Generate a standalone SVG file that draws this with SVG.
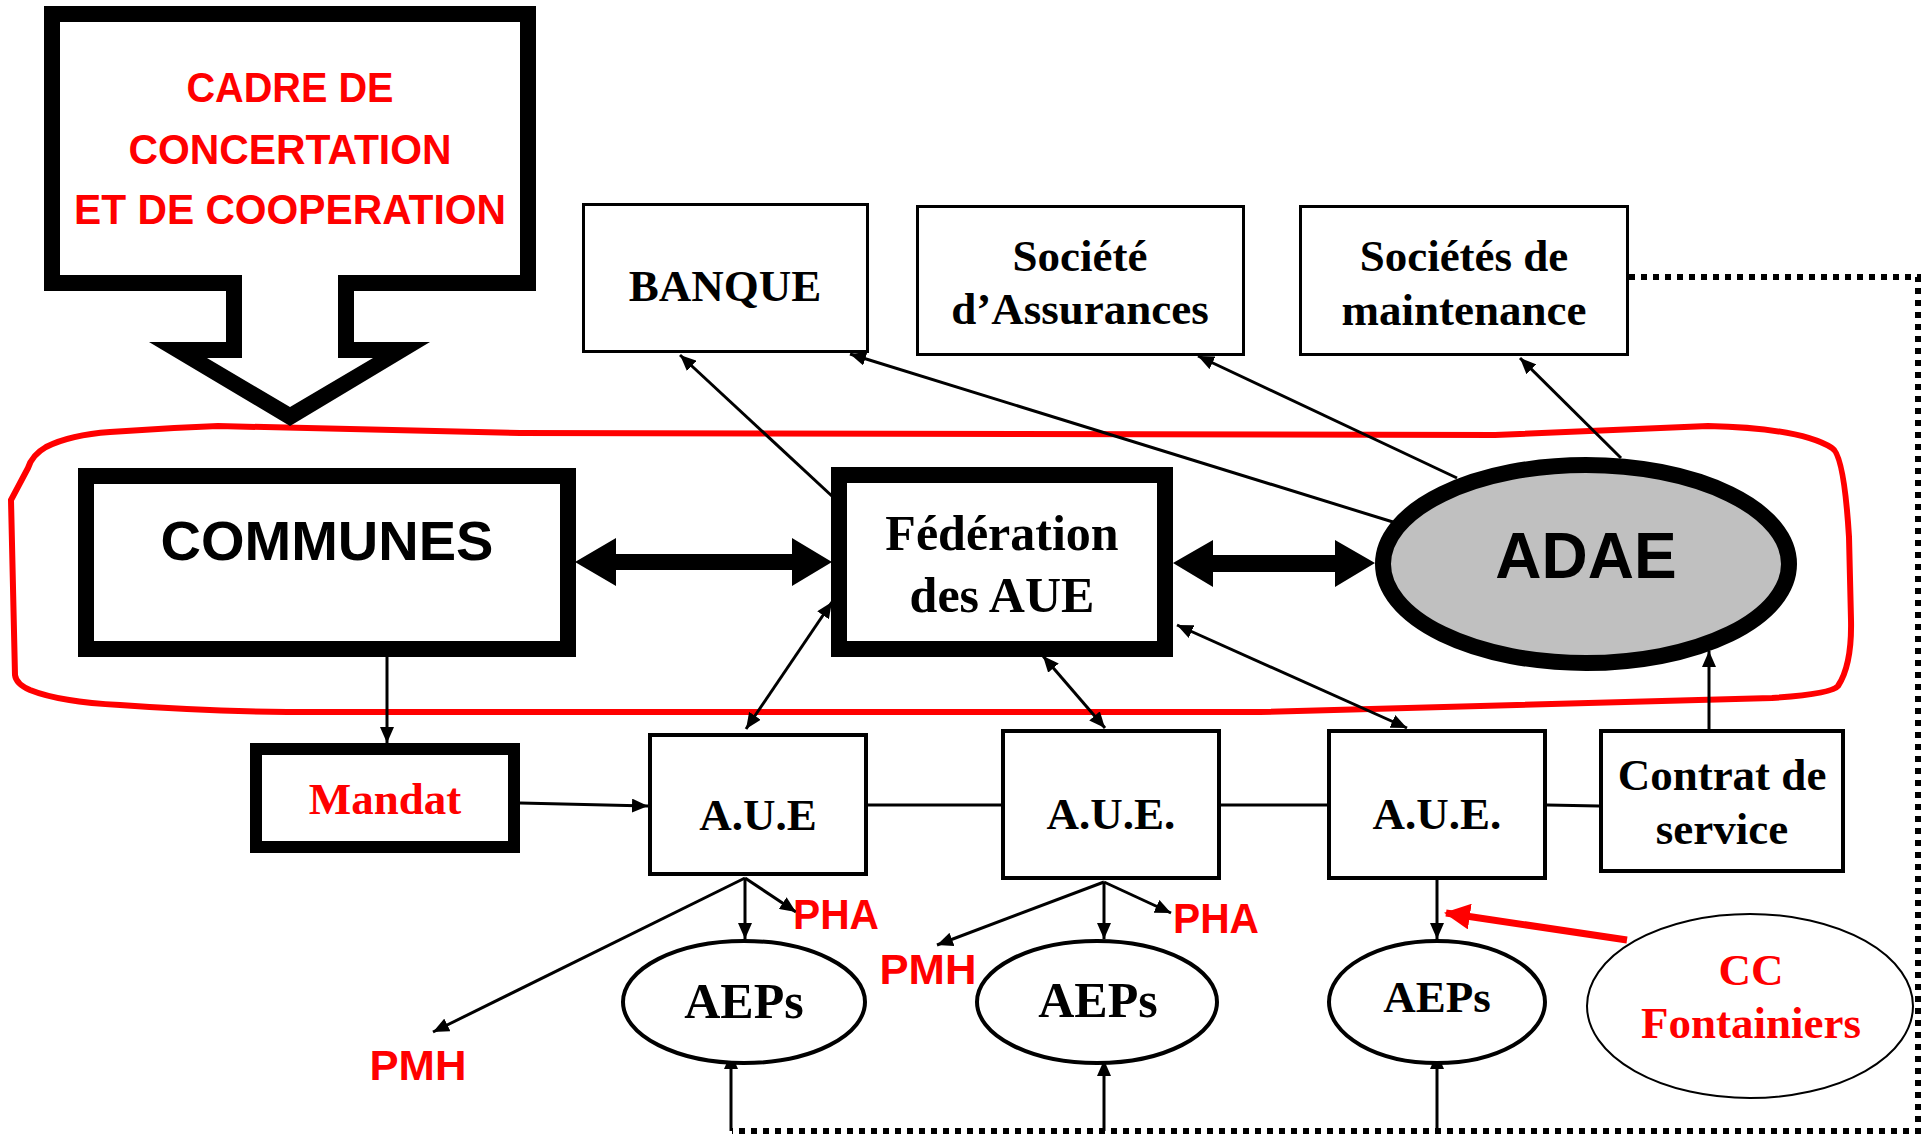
<svg xmlns="http://www.w3.org/2000/svg" width="1929" height="1136" viewBox="0 0 1929 1136">
<style>
.box{fill:#fff;stroke:#000;stroke-width:3}
.box4{fill:#fff;stroke:#000;stroke-width:4}
.thick{fill:#fff;stroke:#000;stroke-width:16}
.serif{font-family:"Liberation Serif","Times New Roman",serif;font-weight:bold;fill:#000;text-anchor:middle}
.sans{font-family:"Liberation Sans",Arial,sans-serif;font-weight:bold;fill:#000;text-anchor:middle}
.red{fill:#ff0000}
.conn{stroke:#000;stroke-width:3;fill:none}
.dot{stroke:#000;stroke-width:6;fill:none;stroke-dasharray:6 6}
</style>
<defs>
<marker id="ah" markerUnits="userSpaceOnUse" markerWidth="16" markerHeight="14" refX="16" refY="7" orient="auto-start-reverse">
<path d="M0,0 L16,7 L0,14 z" fill="#000"/>
</marker>
<marker id="ahr" markerUnits="userSpaceOnUse" markerWidth="26" markerHeight="26" refX="24" refY="13" orient="auto">
<path d="M0,0 L26,13 L0,26 z" fill="#ff0000"/>
</marker>
</defs>

<!-- red grouping loop -->
<path d="M 218,426 C 190,427 150,429 110,432 C 80,434 60,440 46,447 Q 32,455 28,468 L 11,500 L 15,675 Q 16,684 30,690 Q 60,702 120,705 Q 200,711 287,712 L 1260,712 L 1772,698 Q 1832,694 1838,686 Q 1852,665 1851,620 L 1849,537 Q 1844,455 1832,448 Q 1800,428 1708,426 L 1495,435 L 520,433 Z" fill="none" stroke="#ff0000" stroke-width="6"/>

<g id="connectors">
<!-- dotted loop -->
<path class="dot" d="M1629,277 L1918,277 L1918,1131 L732,1131"/>
<line class="conn" x1="731" y1="1131" x2="731" y2="1053" marker-end="url(#ah)"/>
<line class="conn" x1="1104" y1="1131" x2="1104" y2="1060" marker-end="url(#ah)"/>
<line class="conn" x1="1437" y1="1131" x2="1437" y2="1053" marker-end="url(#ah)"/>
<!-- to top boxes -->
<line class="conn" x1="833" y1="497" x2="680" y2="355" marker-end="url(#ah)"/>
<line class="conn" x1="1393" y1="522" x2="850" y2="354" marker-end="url(#ah)"/>
<line class="conn" x1="1457" y1="478" x2="1198" y2="356" marker-end="url(#ah)"/>
<line class="conn" x1="1621" y1="458" x2="1520" y2="358" marker-end="url(#ah)"/>
<!-- double arrows -->
<polygon points="575,562 616,538 616,554 792,554 792,538 832,562 792,586 792,570 616,570 616,586" fill="#000"/>
<polygon points="1173,563 1213,540 1213,555 1335,555 1335,540 1375,563 1335,587 1335,572 1213,572 1213,587" fill="#000"/>
<!-- communes to mandat -->
<line class="conn" x1="387" y1="642" x2="387" y2="743" marker-end="url(#ah)"/>
<!-- mandat to AUE -->
<line class="conn" x1="520" y1="803" x2="648" y2="806" marker-end="url(#ah)"/>
<!-- federation to AUEs -->
<line class="conn" x1="832" y1="602" x2="746" y2="729" marker-start="url(#ah)" marker-end="url(#ah)"/>
<line class="conn" x1="1043" y1="656" x2="1105" y2="728" marker-start="url(#ah)" marker-end="url(#ah)"/>
<line class="conn" x1="1177" y1="625" x2="1407" y2="728" marker-start="url(#ah)" marker-end="url(#ah)"/>
<!-- AUE chain -->
<line class="conn" x1="868" y1="805" x2="1001" y2="805"/>
<line class="conn" x1="1221" y1="805" x2="1327" y2="805"/>
<line class="conn" x1="1547" y1="805" x2="1599" y2="806"/>
<!-- contrat to ADAE -->
<line class="conn" x1="1709" y1="729" x2="1709" y2="651" marker-end="url(#ah)"/>
<!-- AUE1 outputs -->
<line class="conn" x1="745" y1="878" x2="745" y2="939" marker-end="url(#ah)"/>
<line class="conn" x1="745" y1="878" x2="796" y2="912" marker-end="url(#ah)"/>
<line class="conn" x1="745" y1="878" x2="433" y2="1032" marker-end="url(#ah)"/>
<!-- AUE2 outputs -->
<line class="conn" x1="1104" y1="882" x2="1104" y2="939" marker-end="url(#ah)"/>
<line class="conn" x1="1104" y1="882" x2="1171" y2="913" marker-end="url(#ah)"/>
<line class="conn" x1="1104" y1="882" x2="937" y2="945" marker-end="url(#ah)"/>
<!-- AUE3 output -->
<line class="conn" x1="1437" y1="880" x2="1437" y2="939" marker-end="url(#ah)"/>
<!-- CC fontainiers arrow -->
<line x1="1627" y1="940" x2="1446" y2="913" stroke="#ff0000" stroke-width="7" marker-end="url(#ahr)"/>
</g>

<g id="cadre">
<path d="M44,6 L536,6 L536,291 L354,291 L354,342 L430,342 L290,426 L149,342 L226,342 L226,291 L44,291 Z" fill="#000"/>
<path d="M60,22 L520,22 L520,275 L338,275 L338,358 L373,358 L290,407 L207,358 L242,358 L242,275 L60,275 Z" fill="#fff"/>
<text class="sans red" x="290" y="102" font-size="43" textLength="207" lengthAdjust="spacingAndGlyphs">CADRE DE</text>
<text class="sans red" x="290" y="164" font-size="43" textLength="323" lengthAdjust="spacingAndGlyphs">CONCERTATION</text>
<text class="sans red" x="290" y="224" font-size="43" textLength="432" lengthAdjust="spacingAndGlyphs">ET DE COOPERATION</text>
</g>

<g id="banque">
<rect class="box" x="583.5" y="204.5" width="284" height="147"/>
<text class="serif" x="725" y="301" font-size="45">BANQUE</text>
</g>
<g id="assurances">
<rect class="box" x="917.5" y="206.5" width="326" height="148"/>
<text class="serif" x="1080" y="271" font-size="45">Société</text>
<text class="serif" x="1080" y="324" font-size="45">d’Assurances</text>
</g>
<g id="maintenance">
<rect class="box" x="1300.5" y="206.5" width="327" height="148"/>
<text class="serif" x="1464" y="271" font-size="45">Sociétés de</text>
<text class="serif" x="1464" y="325" font-size="45">maintenance</text>
</g>

<g id="communes">
<rect class="thick" x="86" y="476" width="482" height="173"/>
<text class="sans" x="327" y="560" font-size="56">COMMUNES</text>
</g>
<g id="federation">
<rect class="thick" x="839" y="475" width="326" height="174"/>
<text class="serif" x="1002" y="550" font-size="50">Fédération</text>
<text class="serif" x="1002" y="612" font-size="50">des AUE</text>
</g>
<g id="adae">
<ellipse cx="1586" cy="564" rx="203" ry="99" fill="#c0c0c0" stroke="#000" stroke-width="16"/>
<text class="sans" x="1586" y="578" font-size="64">ADAE</text>
</g>

<g id="mandat">
<rect x="256" y="749" width="258" height="98" fill="#fff" stroke="#000" stroke-width="12"/>
<text class="serif red" x="385" y="814" font-size="45">Mandat</text>
</g>
<g id="aue1">
<rect class="box4" x="650" y="735" width="216" height="139"/>
<text class="serif" x="758" y="830" font-size="45">A.U.E</text>
</g>
<g id="aue2">
<rect class="box4" x="1003" y="731" width="216" height="147"/>
<text class="serif" x="1111" y="829" font-size="45">A.U.E.</text>
</g>
<g id="aue3">
<rect class="box4" x="1329" y="731" width="216" height="147"/>
<text class="serif" x="1437" y="829" font-size="45">A.U.E.</text>
</g>
<g id="contrat">
<rect class="box4" x="1601" y="731" width="242" height="140"/>
<text class="serif" x="1722" y="790" font-size="45">Contrat de</text>
<text class="serif" x="1722" y="844" font-size="45">service</text>
</g>

<g id="aeps1">
<ellipse cx="744" cy="1002" rx="121" ry="61" fill="#fff" stroke="#000" stroke-width="4"/>
<text class="serif" x="744" y="1018" font-size="50">AEPs</text>
</g>
<g id="aeps2">
<ellipse cx="1097" cy="1002" rx="120" ry="61" fill="#fff" stroke="#000" stroke-width="4"/>
<text class="serif" x="1098" y="1017" font-size="50">AEPs</text>
</g>
<g id="aeps3">
<ellipse cx="1437" cy="1002" rx="108" ry="61" fill="#fff" stroke="#000" stroke-width="4"/>
<text class="serif" x="1437" y="1012" font-size="45">AEPs</text>
</g>
<g id="cc">
<ellipse cx="1750" cy="1006" rx="163" ry="92" fill="#fff" stroke="#000" stroke-width="2"/>
<text class="serif red" x="1751" y="985" font-size="45">CC</text>
<text class="serif red" x="1751" y="1038" font-size="45">Fontainiers</text>
</g>

<g id="labels">
<text class="sans red" x="836" y="929" font-size="42" textLength="86" lengthAdjust="spacingAndGlyphs">PHA</text>
<text class="sans red" x="1216" y="933" font-size="42" textLength="86" lengthAdjust="spacingAndGlyphs">PHA</text>
<text class="sans red" x="928" y="984" font-size="42" textLength="97" lengthAdjust="spacingAndGlyphs">PMH</text>
<text class="sans red" x="418" y="1080" font-size="42" textLength="97" lengthAdjust="spacingAndGlyphs">PMH</text>
</g>
</svg>
